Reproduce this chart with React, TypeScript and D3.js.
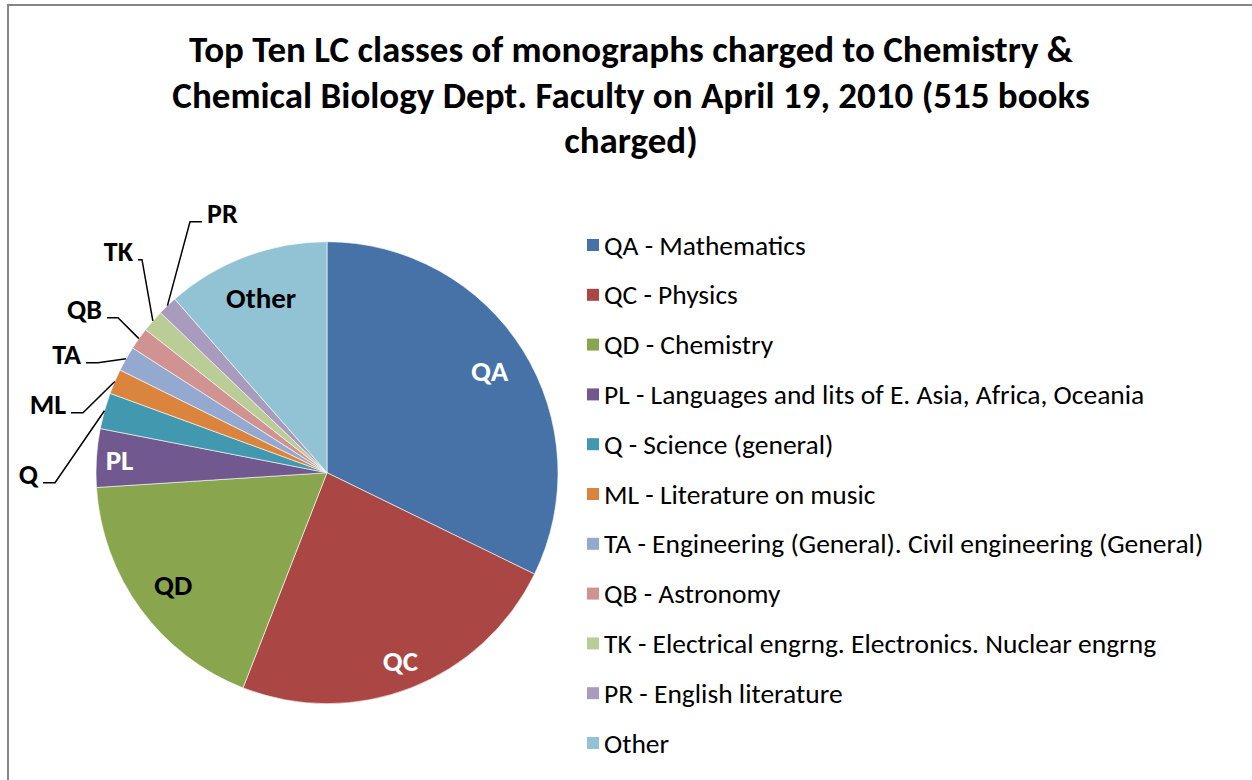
import React, { useEffect, useRef } from 'react';
import * as d3 from 'd3';

// LC class codes, counts of books charged, and legend descriptions
const codes = ['QA', 'QC', 'QD', 'PL', 'Q', 'ML', 'TA', 'QB', 'TK', 'PR', 'Other'];
const counts = [166, 122, 93, 21, 13, 9, 9, 8, 8, 7, 59];
const descriptions = [
    'Mathematics',
    'Physics',
    'Chemistry',
    'Languages and lits of E. Asia, Africa, Oceania',
    'Science (general)',
    'Literature on music',
    'Engineering (General). Civil engineering (General)',
    'Astronomy',
    'Electrical engrng. Electronics. Nuclear engrng',
    'English literature',
    '',
];
const colors = ['#4672A7', '#AA4744', '#89A54E', '#71588F', '#4298AF', '#DB843D', '#93A9D0', '#D09392', '#BACD96', '#A99BBD', '#92C3D4'];

const titleLines = [
    'Top Ten LC classes of monographs charged to Chemistry &',
    'Chemical Biology Dept. Faculty on April 19, 2010 (515 books',
    'charged)',
];

// labels drawn inside the slices: text colour and radius factor
const insideLabels = {
    QA: { fill: '#fff', k: 0.83 },
    QC: { fill: '#fff', k: 0.875 },
    QD: { fill: '#000', k: 0.825 },
    PL: { fill: '#fff', k: 0.9 },
    Other: { fill: '#000', k: 0.81 },
};
// labels drawn outside with leader lines: elbow offset from pie centre, stub length (negative = to the left)
const outsideLabels = {
    Q: { ex: -272, ey: 10, stub: -12 },
    ML: { ex: -244, ey: -60, stub: -12 },
    TA: { ex: -229, ey: -110, stub: -12 },
    QB: { ex: -209, ey: -155, stub: -11 },
    TK: { ex: -185, ey: -213, stub: -4 },
    PR: { ex: -137, ey: -251, stub: 12 },
};

const FONT = "Carlito, Calibri, 'Liberation Sans', Arial, sans-serif";

const App = () => {
    const svgRef = useRef(null);

    useEffect(() => {
        const W = 1252, H = 780;
        const svg = d3.select(svgRef.current).attr('width', W).attr('height', H);
        svg.selectAll('*').remove();

        svg.append('rect').attr('width', W).attr('height', H).attr('fill', '#fff');
        // chart frame
        svg.append('path')
            .attr('d', `M8,${H + 5} L8,5 L${W + 5},5`)
            .attr('fill', 'none')
            .attr('stroke', '#868686')
            .attr('stroke-width', 2);

        // title
        const title = svg.append('text')
            .attr('text-anchor', 'middle')
            .attr('font-family', FONT)
            .attr('font-weight', 'bold')
            .attr('font-size', 37)
            .attr('fill', '#000');
        titleLines.forEach((t, i) => {
            title.append('tspan').attr('x', 631).attr('y', 62 + i * 45.5).text(t);
        });

        const data = codes.map((c, i) => ({ code: c, value: counts[i], desc: descriptions[i], color: colors[i] }));

        const cx = 327, cy = 472.7, r = 231;
        const pie = d3.pie().value(d => d.value).sort(null);
        const arcs = pie(data);
        const arc = d3.arc().innerRadius(0).outerRadius(r);

        const g = svg.append('g').attr('transform', `translate(${cx},${cy})`);
        g.selectAll('path.slice')
            .data(arcs)
            .join('path')
            .attr('class', 'slice')
            .attr('d', arc)
            .attr('fill', d => d.data.color)
            .attr('stroke', '#fff')
            .attr('stroke-width', 0.6);

        // inside labels
        arcs.filter(a => insideLabels[a.data.code]).forEach(a => {
            const L = insideLabels[a.data.code];
            const [x, y] = d3.arc().innerRadius(r * L.k).outerRadius(r * L.k).centroid(a);
            g.append('text')
                .attr('x', x)
                .attr('y', y)
                .attr('dy', '0.35em')
                .attr('text-anchor', 'middle')
                .attr('font-family', FONT)
                .attr('font-weight', 'bold')
                .attr('font-size', 29)
                .attr('fill', L.fill)
                .text(a.data.code);
        });

        // outside labels with leader lines
        arcs.filter(a => outsideLabels[a.data.code]).forEach(a => {
            const L = outsideLabels[a.data.code];
            const mid = (a.startAngle + a.endAngle) / 2;
            const px = r * Math.sin(mid), py = -r * Math.cos(mid);
            const sx = L.ex + L.stub;
            g.append('polyline')
                .attr('points', `${sx},${L.ey} ${L.ex},${L.ey} ${px},${py}`)
                .attr('fill', 'none')
                .attr('stroke', '#000')
                .attr('stroke-width', 1.5);
            g.append('text')
                .attr('x', L.stub < 0 ? sx - 5 : sx + 5)
                .attr('y', L.ey + 1)
                .attr('text-anchor', L.stub < 0 ? 'end' : 'start')
                .attr('font-family', FONT)
                .attr('font-weight', 'bold')
                .attr('font-size', 28)
                .attr('fill', '#000')
                .text(a.data.code);
        });

        // legend
        const y = d3.scalePoint().domain(codes).range([245, 743]);
        const leg = svg.append('g');
        const item = leg.selectAll('g').data(data).join('g')
            .attr('transform', d => `translate(587,${y(d.code)})`);
        item.append('rect')
            .attr('y', -6)
            .attr('width', 12)
            .attr('height', 12)
            .attr('fill', d => d.color);
        item.append('text')
            .attr('x', 17)
            .attr('dy', '0.35em')
            .attr('font-family', FONT)
            .attr('font-size', 27.5)
            .attr('fill', '#000')
            .text(d => d.desc ? `${d.code} - ${d.desc}` : d.code);
    }, []);

    return <svg ref={svgRef} style={{ position: 'absolute', left: 0, top: 0 }}></svg>;
};

export default App;
